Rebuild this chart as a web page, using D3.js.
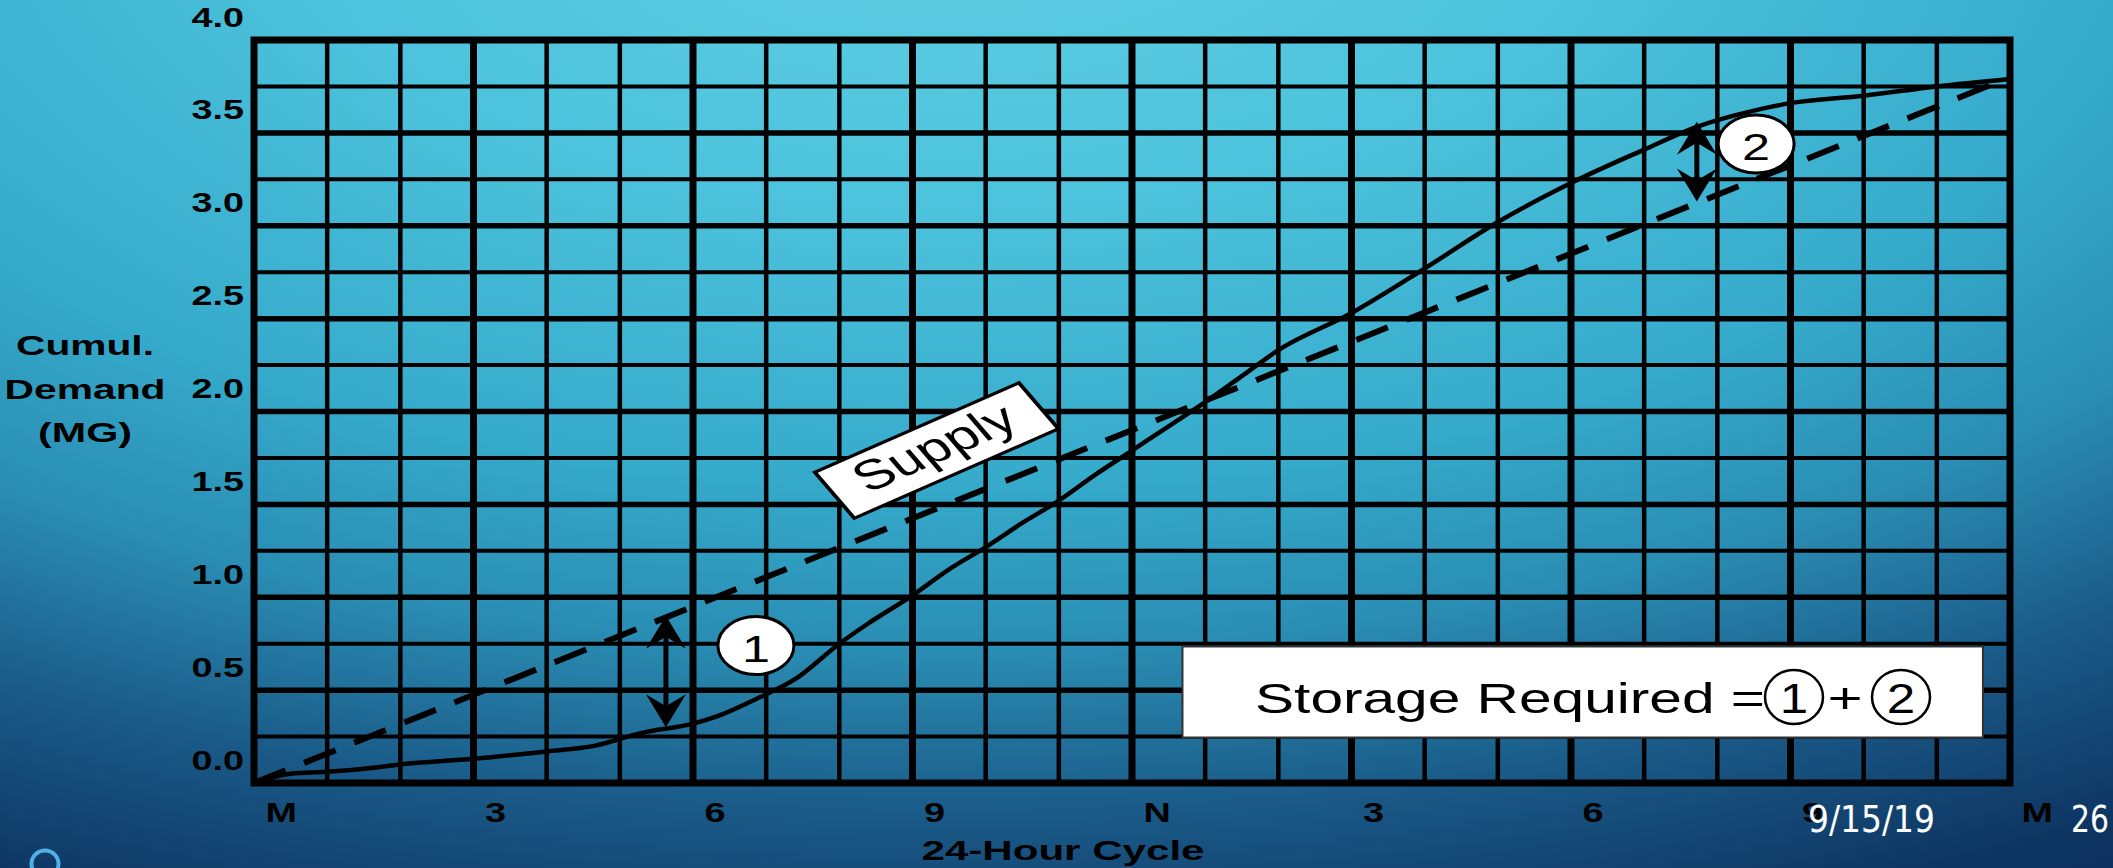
<!DOCTYPE html>
<html>
<head>
<meta charset="utf-8">
<script src="https://cdn.jsdelivr.net/npm/d3@7"></script>
<style>
  html, body { margin: 0; padding: 0; overflow: hidden; background: #0b2d5c; }
  svg { display: block; }
</style>
</head>
<body>
<svg id="chart" width="2113" height="868"></svg>
<script>
// Cumulative demand (MG) over the 24-hour cycle
const demandHours = [0, 0.5, 1, 1.7, 2, 3, 4, 4.65, 5.3, 6, 6.4, 6.85, 7.4, 8, 8.4, 9, 9.5, 10, 10.5, 11, 11.5, 12, 12.5, 13, 13.5, 14, 15, 16, 17, 18, 19, 19.7, 20.5, 21, 22, 23, 24];
const demandMG    = [0, 0.05, 0.06, 0.085, 0.10, 0.13, 0.17, 0.20, 0.27, 0.32, 0.37, 0.45, 0.56, 0.75, 0.86, 1.01, 1.15, 1.27, 1.40, 1.52, 1.66, 1.79, 1.92, 2.05, 2.19, 2.33, 2.53, 2.77, 3.02, 3.23, 3.41, 3.53, 3.62, 3.66, 3.70, 3.75, 3.79];

// Constant-rate supply over the same cycle
const supplyHours = [0, 24];
const supplyMG    = [0, 3.8];

// Axis ticks
const xTickHours  = [0, 3, 6, 9, 12, 15, 18, 21, 24];
const xTickLabels = ["M", "3", "6", "9", "N", "3", "6", "9", "M"];
const yTickValues = [0, 0.5, 1, 1.5, 2, 2.5, 3, 3.5, 4];
const yTickLabels = ["0.0", "0.5", "1.0", "1.5", "2.0", "2.5", "3.0", "3.5", "4.0"];

// Storage gaps between the two curves (1: morning deficit, 2: evening surplus)
const gapHours    = [5.63, 19.72];
const gapTopMG    = [0.90, 3.56];
const gapBottomMG = [0.30, 3.13];
const gapLabels   = ["1", "2"];

const svg = d3.select("#chart");
const W = 2113, H = 868;
const FONT = "'Liberation Sans', Arial, Helvetica, sans-serif";
const STRETCH = 1.4; // the graphic is drawn horizontally widened

// ---- background ----
const defs = svg.append("defs");
const bg = defs.append("radialGradient")
  .attr("id", "bg")
  .attr("gradientUnits", "userSpaceOnUse")
  .attr("cx", 950).attr("cy", -120).attr("r", 1100)
  .attr("gradientTransform", "translate(950,-120) scale(2,1) translate(-950,120)");
[[0, "#63d1e5"], [0.3, "#4cc2dc"], [0.55, "#35aacb"], [0.7, "#2a8db3"], [0.85, "#1a5a88"], [1, "#0e3663"], [1.15, "#0a2552"]]
  .forEach(([o, c]) => bg.append("stop").attr("offset", o / 1.15).attr("stop-color", c));
bg.attr("r", 1100 * 1.15);
svg.append("rect").attr("width", W).attr("height", H).attr("fill", "url(#bg)");

// small slide ornament at the bottom-left
svg.append("circle").attr("cx", 45).attr("cy", 864).attr("r", 13.5)
  .attr("fill", "none").attr("stroke", "#4fb0e8").attr("stroke-width", 4);

// ---- scales ----
const x = d3.scaleLinear().domain([0, 24]).range([254, 2010]);
const y = d3.scaleLinear().domain([0, 4]).range([783, 40]);

// ---- grid ----
const grid = svg.append("g");
grid.selectAll("line.v").data(d3.range(1, 24)).join("line")
  .attr("x1", d => x(d)).attr("x2", d => x(d))
  .attr("y1", y(4)).attr("y2", y(0))
  .attr("stroke", "#000")
  .attr("stroke-width", d => d % 3 === 0 ? 7 : 4.5);
grid.selectAll("line.h").data(d3.range(1, 16)).join("line")
  .attr("x1", x(0)).attr("x2", x(24))
  .attr("y1", d => y(d * 0.25)).attr("y2", d => y(d * 0.25))
  .attr("stroke", "#000")
  .attr("stroke-width", d => d % 2 === 0 ? 5.5 : 4);
grid.append("rect")
  .attr("x", x(0)).attr("y", y(4))
  .attr("width", x(24) - x(0)).attr("height", y(0) - y(4))
  .attr("fill", "none").attr("stroke", "#000").attr("stroke-width", 7);

// ---- curves ----
const supplyPts = supplyHours.map((h, i) => [h, supplyMG[i]]);
const demandPts = demandHours.map((h, i) => [h, demandMG[i]]);

svg.append("path")
  .attr("d", d3.line().x(d => x(d[0])).y(d => y(d[1]))(supplyPts))
  .attr("fill", "none").attr("stroke", "#000")
  .attr("stroke-width", 6).attr("stroke-dasharray", "34 20");

svg.append("path")
  .attr("d", d3.line().curve(d3.curveMonotoneX).x(d => x(d[0])).y(d => y(d[1]))(demandPts))
  .attr("fill", "none").attr("stroke", "#000")
  .attr("stroke-width", 4.5).attr("stroke-linejoin", "round");

// ---- double-headed gap arrows ----
const head = "M0,0 L-20,33 L0,21 L20,33 Z";
gapHours.forEach((h, i) => {
  const ax = x(h), yt = y(gapTopMG[i]), yb = y(gapBottomMG[i]);
  const g = svg.append("g");
  g.append("line").attr("x1", ax).attr("x2", ax)
    .attr("y1", yt + 18).attr("y2", yb - 18)
    .attr("stroke", "#000").attr("stroke-width", 5);
  g.append("path").attr("d", head).attr("transform", `translate(${ax},${yt})`);
  g.append("path").attr("d", head).attr("transform", `translate(${ax},${yb}) scale(1,-1)`);
});

// ---- numbered gap markers ----
const markerPos = [[6.86, 0.74], [20.53, 3.44]];
gapLabels.forEach((lab, i) => {
  const cx = x(markerPos[i][0]), cy = y(markerPos[i][1]);
  const g = svg.append("g").attr("transform", `translate(${cx},${cy})`);
  g.append("ellipse").attr("rx", 38).attr("ry", 29)
    .attr("fill", "#fff").attr("stroke", "#000").attr("stroke-width", 3);
  g.append("text").text(lab)
    .attr("transform", `translate(0,16) scale(${STRETCH},1)`)
    .attr("text-anchor", "middle")
    .attr("font-family", FONT).attr("font-size", 36).attr("fill", "#000");
});

// ---- "Supply" tag ----
const sup = svg.append("g")
  .attr("transform", `translate(${x(9.33)},${y(1.79)}) scale(${STRETCH},1) rotate(-31.5)`);
sup.append("rect").attr("x", -85.5).attr("y", -27).attr("width", 171).attr("height", 54)
  .attr("fill", "#fff").attr("stroke", "#000").attr("stroke-width", 3);
sup.append("text").text("Supply")
  .attr("x", 0).attr("y", 11)
  .attr("text-anchor", "middle")
  .attr("font-family", FONT).attr("font-size", 42).attr("fill", "#000");

// ---- storage note ----
const bx0 = x(12.69), bx1 = x(23.63), by0 = y(0.735), by1 = y(0.245);
const note = svg.append("g");
note.append("rect").attr("x", bx0).attr("y", by0)
  .attr("width", bx1 - bx0).attr("height", by1 - by0)
  .attr("fill", "#fff").attr("stroke", "#333").attr("stroke-width", 2);
note.append("text").text("Storage Required =")
  .attr("x", 1255).attr("y", 713)
  .attr("textLength", 510).attr("lengthAdjust", "spacingAndGlyphs")
  .attr("font-family", FONT).attr("font-size", 43).attr("fill", "#000");
[["1", 1794], ["2", 1901]].forEach(([lab, cx]) => {
  note.append("ellipse").attr("cx", cx).attr("cy", 697).attr("rx", 29).attr("ry", 27)
    .attr("fill", "none").attr("stroke", "#000").attr("stroke-width", 2.5);
  note.append("text").text(lab)
    .attr("transform", `translate(${cx},713) scale(${STRETCH * 0.85},1)`)
    .attr("text-anchor", "middle")
    .attr("font-family", FONT).attr("font-size", 43).attr("fill", "#000");
});
note.append("text").text("+")
  .attr("transform", `translate(1845,713) scale(${STRETCH},1)`)
  .attr("text-anchor", "middle")
  .attr("font-family", FONT).attr("font-size", 43).attr("fill", "#000");

// ---- axes ----
const xAxis = svg.append("g").attr("transform", `translate(0,${y(0)})`)
  .call(d3.axisBottom(x).tickValues(xTickHours).tickFormat((d, i) => xTickLabels[i]).tickSize(0));
xAxis.select(".domain").remove();
xAxis.selectAll("text")
  .attr("x", 0).attr("y", 0).attr("dy", 0)
  .attr("text-anchor", "start")
  .attr("transform", `translate(11,39) scale(${STRETCH},1)`)
  .attr("font-family", FONT).attr("font-weight", "bold").attr("font-size", 27).attr("fill", "#000");

const yAxis = svg.append("g").attr("transform", `translate(${x(0)},0)`)
  .call(d3.axisLeft(y).tickValues(yTickValues).tickFormat((d, i) => yTickLabels[i]).tickSize(0));
yAxis.select(".domain").remove();
yAxis.selectAll("text")
  .attr("x", 0).attr("y", 0).attr("dy", 0)
  .attr("text-anchor", "end")
  .attr("transform", `translate(-10,-14) scale(${STRETCH},1)`)
  .attr("font-family", FONT).attr("font-weight", "bold").attr("font-size", 27).attr("fill", "#000");

// axis titles
svg.append("text").text("24-Hour Cycle")
  .attr("x", 1063).attr("y", 860)
  .attr("text-anchor", "middle")
  .attr("textLength", 283).attr("lengthAdjust", "spacingAndGlyphs")
  .attr("font-family", FONT).attr("font-weight", "bold").attr("font-size", 28).attr("fill", "#000");

[["Cumul.", 355, 138], ["Demand", 399, 161], ["(MG)", 442, 94]].forEach(([t, yy, len]) => {
  svg.append("text").text(t)
    .attr("x", 85).attr("y", yy)
    .attr("text-anchor", "middle")
    .attr("textLength", len).attr("lengthAdjust", "spacingAndGlyphs")
    .attr("font-family", FONT).attr("font-weight", "bold").attr("font-size", 28).attr("fill", "#000");
});

// ---- slide footer ----
const FOOT = "'DejaVu Sans Condensed', 'DejaVu Sans', sans-serif";
svg.append("text").text("9/15/19")
  .attr("x", 1808).attr("y", 832)
  .attr("textLength", 127).attr("lengthAdjust", "spacingAndGlyphs")
  .attr("font-family", FOOT).attr("font-stretch", "condensed")
  .attr("font-size", 37).attr("fill", "#fff");
svg.append("text").text("26")
  .attr("x", 2071).attr("y", 832)
  .attr("textLength", 38).attr("lengthAdjust", "spacingAndGlyphs")
  .attr("font-family", FOOT).attr("font-stretch", "condensed")
  .attr("font-size", 37).attr("fill", "#fff");
</script>
</body>
</html>
